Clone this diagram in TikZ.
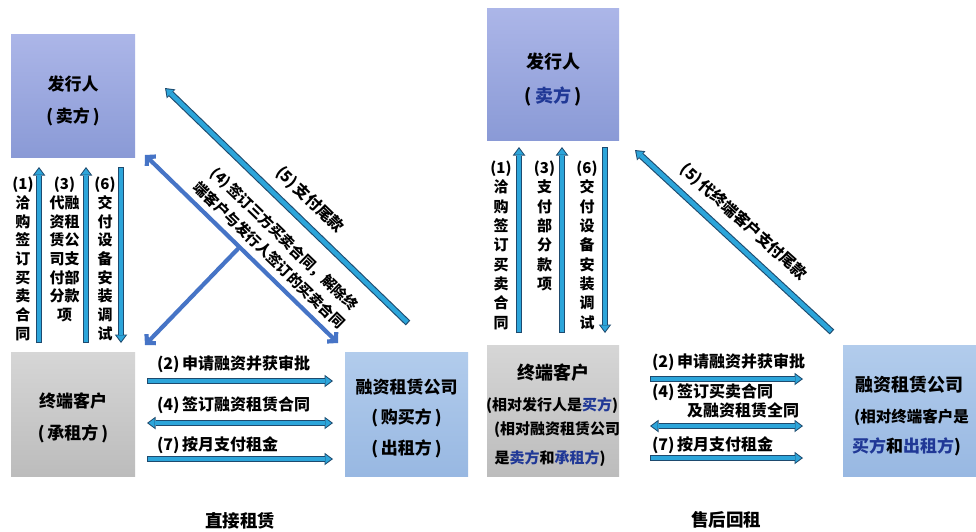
\documentclass[tikz,border=0pt]{standalone}
\usepackage{fontspec}
\setmainfont{Noto Sans CJK SC}
\usetikzlibrary{arrows.meta,calc}
\definecolor{arrLight}{RGB}{44,165,218}
\definecolor{arrDark}{RGB}{30,74,110}
\definecolor{dkBlue}{RGB}{70,116,198}
\definecolor{txtBlue}{RGB}{32,56,150}
\definecolor{purTop}{RGB}{172,182,232}
\definecolor{purBot}{RGB}{138,154,214}
\definecolor{gryTop}{RGB}{214,214,214}
\definecolor{gryBot}{RGB}{188,188,188}
\definecolor{bluTop}{RGB}{178,204,236}
\definecolor{bluBot}{RGB}{152,184,226}
\tikzset{
  outtip/.tip={Triangle[width=12.5pt,length=8.5pt,line width=0pt]},
  intip/.tip={Triangle[width=9pt,length=6pt,line width=0pt]},
  dktip/.tip={Straight Barb[width=13pt,length=6pt]},
  aout/.style={draw=arrDark,line width=6.6pt},
  ain/.style={draw=arrLight,line width=4.4pt,shorten >=1.7pt,shorten <=1.1pt},
  dkline/.style={draw=dkBlue,line width=4.2pt},
  boxP/.style={top color=purTop,bottom color=purBot,draw=none},
  boxG/.style={top color=gryTop,bottom color=gryBot,draw=none},
  boxB/.style={top color=bluTop,bottom color=bluBot,draw=none},
  ttlL/.style={font=\bfseries\fontsize{17}{32}\selectfont,align=center},
  ttlR/.style={font=\bfseries\fontsize{18}{34}\selectfont,align=center},
  small/.style={font=\bfseries\fontsize{15}{18}\selectfont},
  vlabL/.style={font=\bfseries\fontsize{15}{18.7}\selectfont,align=center,anchor=north},
  vlabR/.style={font=\bfseries\fontsize{15}{19.3}\selectfont,align=center,anchor=north},
  hlab/.style={font=\bfseries\fontsize{16}{18}\selectfont,anchor=west},
  caption/.style={font=\bfseries\fontsize{17.5}{20}\selectfont},
}
\newcommand\myArrowS[2]{\draw[aout,-outtip] #1 -- #2; \draw[ain,-intip] #1 -- #2;}
\newcommand\myArrowD[2]{\draw[aout,outtip-outtip] #1 -- #2; \draw[ain,intip-intip,shorten <=1.7pt] #1 -- #2;}
\begin{document}
\begin{tikzpicture}[x=1pt,y=-1pt,every node/.style={inner sep=0pt,outer sep=0pt}]
\fill[white] (0,0) rectangle (976,531);
\useasboundingbox (0,0) rectangle (976,531);

% ---------------- left: direct lease ----------------
\node[boxP,minimum width=124pt,minimum height=123pt] (L1) at (73,95.5) {};
\node[boxG,minimum width=124pt,minimum height=124pt] (L2) at (73,414) {};
\node[boxB,minimum width=123pt,minimum height=124pt] (L3) at (406.5,414) {};
\node[ttlL] (L1t) at (73,101) {发行人\\(\,卖方\,)};
\node[ttlL] (L2t) at (73,417.5) {终端客户\\(\,承租方\,)};
\node[ttlL,font=\bfseries\fontsize{17}{30.5}\selectfont] (L3t) at (406.5,418) {融资租赁公司\\(\,购买方\,)\\(\,出租方\,)};

% vertical arrows
\myArrowS{([xshift=-34pt,yshift=9pt]L2.north)}{([xshift=-34pt,yshift=-10pt]L1.south)}
\myArrowS{([xshift=13pt,yshift=9pt]L2.north)}{([xshift=13pt,yshift=-10pt]L1.south)}
\myArrowS{([xshift=48pt,yshift=-10pt]L1.south)}{([xshift=48pt,yshift=9pt]L2.north)}
\node[vlabL] (L1v) at (23,177) {(1)\\洽\\购\\签\\订\\买\\卖\\合\\同};
\node[vlabL] (L3v) at (64.5,177) {(3)\\代融\\资租\\赁公\\司支\\付部\\分款\\项};
\node[vlabL] (L6v) at (105,177) {(6)\\交\\付\\设\\备\\安\\装\\调\\试};

% horizontal arrows
\myArrowS{([xshift=12pt,yshift=33pt]L2.east)}{([xshift=-12pt,yshift=33pt]L3.west)}
\myArrowD{([xshift=12pt,yshift=-9pt]L2.east)}{([xshift=-12pt,yshift=-9pt]L3.west)}
\myArrowS{([xshift=12pt,yshift=-45pt]L2.east)}{([xshift=-12pt,yshift=-45pt]L3.west)}
\node[hlab] (Lh2) at (157,364) {(2)\,申请融资并获审批};
\node[hlab] (Lh4) at (157,405) {(4)\,签订融资租赁合同};
\node[hlab] (Lh7) at (157,445) {(7)\,按月支付租金};

% diagonal (4): three-party contract
\coordinate (a4s) at ([xshift=10pt,yshift=2pt]L1.south east);
\coordinate (a4e) at ([xshift=-7pt,yshift=9pt]L3.north west);
\coordinate (a4b) at ([xshift=10pt,yshift=7pt]L2.north east);
\coordinate (a4j) at ($(a4s)!0.49!(a4e)$);
\draw[dkline,dktip-dktip] (a4s) -- (a4e);
\draw[dkline,-dktip] (a4j) -- (a4b);
\node[font=\bfseries\fontsize{14.5}{22}\selectfont,align=center,rotate=-44] (L4d) at (277,247)
  {(4)\,签订三方买卖合同，解除终\\端客户与发行人签订的买卖合同};

% diagonal (5)
\coordinate (a5s) at ([xshift=1.5pt,yshift=29pt]L3.north);
\coordinate (a5e) at ([xshift=30pt,yshift=7.5pt]L1.east);
\myArrowS{(a5s)}{(a5e)}
\node[font=\bfseries\fontsize{15.5}{18}\selectfont,rotate=-44] (L5d) at (310,200) {(5)\,支付尾款};

\node[caption] (capL) at (240,521) {直接租赁};

% ---------------- right: sale and leaseback ----------------
\node[boxP,minimum width=132pt,minimum height=132pt] (R1) at (553,74) {};
\node[boxG,minimum width=132pt,minimum height=131pt] (R2) at (553,410.5) {};
\node[boxB,minimum width=133pt,minimum height=131pt] (R3) at (909.5,410.5) {};
\node[ttlR] (R1t) at (553,80) {发行人\\(\,\textcolor{txtBlue}{卖方}\,)};
\node[font=\bfseries\fontsize{18}{20}\selectfont] (R2a) at (553,373) {终端客户};
\node[small] (R2b) at (552,405) {(相对发行人是\textcolor{txtBlue}{买方})};
\node[small] (R2c) at (557,430) {(相对融资租赁公司};
\node[small] (R2d) at (550,458) {是\textcolor{txtBlue}{卖方}和\textcolor{txtBlue}{承租方})};
\node[font=\bfseries\fontsize{18}{20}\selectfont] (R3a) at (909,385) {融资租赁公司};
\node[font=\bfseries\fontsize{15.5}{18}\selectfont] (R3b) at (911.5,417) {(相对终端客户是};
\node[font=\bfseries\fontsize{17}{20}\selectfont] (R3c) at (906.5,447) {\textcolor{txtBlue}{买方}和\textcolor{txtBlue}{出租方})};

% vertical arrows
\myArrowS{([xshift=-34pt,yshift=12pt]R2.north)}{([xshift=-34pt,yshift=-7pt]R1.south)}
\myArrowS{([xshift=9pt,yshift=12pt]R2.north)}{([xshift=9pt,yshift=-7pt]R1.south)}
\myArrowS{([xshift=52pt,yshift=-7pt]R1.south)}{([xshift=52pt,yshift=12pt]R2.north)}
\node[vlabR] (R1v) at (501,161) {(1)\\洽\\购\\签\\订\\买\\卖\\合\\同};
\node[vlabR] (R3v) at (544.5,161) {(3)\\支\\付\\部\\分\\款\\项};
\node[vlabR] (R6v) at (587,161) {(6)\\交\\付\\设\\备\\安\\装\\调\\试};

% horizontal arrows
\myArrowS{([xshift=31pt,yshift=31.5pt]R2.east)}{([xshift=-40pt,yshift=31.5pt]R3.west)}
\myArrowD{([xshift=31pt,yshift=-15.5pt]R2.east)}{([xshift=-40pt,yshift=-15.5pt]R3.west)}
\myArrowS{([xshift=31pt,yshift=-47.5pt]R2.east)}{([xshift=-40pt,yshift=-47.5pt]R3.west)}
\node[hlab] (Rh2) at (652,362) {(2)\,申请融资并获审批};
\node[hlab] (Rh4) at (652,392) {(4)\,签订买卖合同};
\node[hlab] (Rh4b) at (687,410) {及融资租赁全同};
\node[hlab] (Rh7) at (652,445) {(7)\,按月支付租金};

% diagonal (5)
\coordinate (b5s) at ([xshift=-11pt,yshift=13pt]R3.north west);
\coordinate (b5e) at ([xshift=16pt,yshift=-10pt]R1.south east);
\myArrowS{(b5s)}{(b5e)}
\node[font=\bfseries\fontsize{15.5}{18}\selectfont,rotate=-42] (R5d) at (744,222) {(5)\,代终端客户支付尾款};

\node[caption] (capR) at (726,520) {售后回租};
\end{tikzpicture}
\end{document}
